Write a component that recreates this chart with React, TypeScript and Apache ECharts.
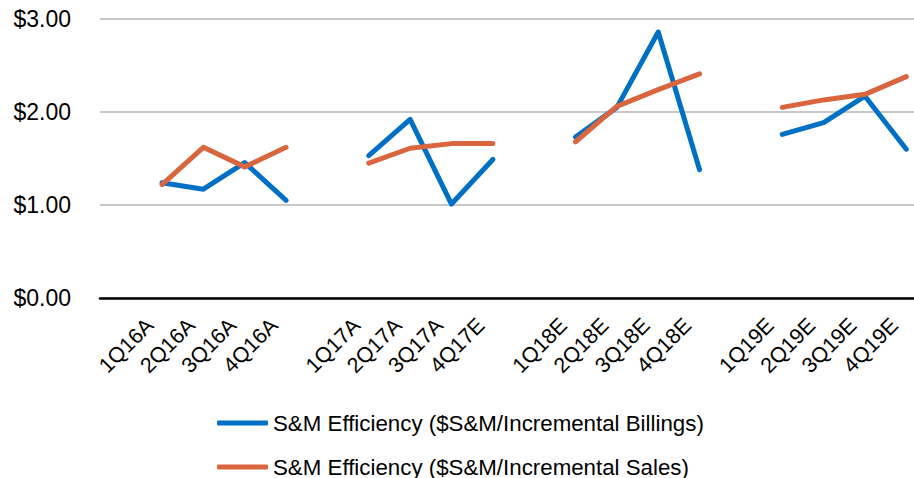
import React, { useEffect, useRef } from "react";
import * as echarts from "echarts";

const categories = [
  "", "1Q16A", "2Q16A", "3Q16A", "4Q16A",
  "", "1Q17A", "2Q17A", "3Q17A", "4Q17E",
  "", "1Q18E", "2Q18E", "3Q18E", "4Q18E",
  "", "1Q19E", "2Q19E", "3Q19E", "4Q19E",
];

const billings = [
  null, 1.24, 1.17, 1.455, 1.05,
  null, 1.53, 1.92, 1.01, 1.49,
  null, 1.73, 2.05, 2.86, 1.38,
  null, 1.76, 1.885, 2.17, 1.6,
];

const sales = [
  null, 1.22, 1.62, 1.41, 1.62,
  null, 1.45, 1.61, 1.66, 1.66,
  null, 1.68, 2.06, 2.24, 2.41,
  null, 2.05, 2.13, 2.19, 2.38,
];

const yTicks = [0, 1, 2, 3];

const seriesNames = [
  "S&M Efficiency ($S&M/Incremental Billings)",
  "S&M Efficiency ($S&M/Incremental Sales)",
];

const FONT = "'Liberation Sans', Arial, sans-serif";
const BLUE = "#0070C6";
const ORANGE = "#D9663F";

const legendBase = {
  orient: "vertical",
  left: 217,
  padding: 0,
  itemWidth: 51,
  itemHeight: 5,
  icon: "roundRect",
  textStyle: { fontSize: 22.3, lineHeight: 22, color: "#000", fontFamily: FONT },
};

export default function App() {
  const ref = useRef<HTMLDivElement>(null);
  useEffect(() => {
    document.body.style.margin = "0";
    const chart = echarts.init(ref.current!, null, { renderer: "svg" });
    chart.setOption({
      animation: false,
      textStyle: { fontFamily: FONT },
      grid: { left: 100, top: 19, width: 827, height: 279, containLabel: false, outerBoundsMode: "none" },
      legend: [
        { ...legendBase, top: 412, data: [seriesNames[0]] },
        { ...legendBase, top: 456, data: [seriesNames[1]] },
      ],
      xAxis: {
        type: "category",
        data: categories,
        boundaryGap: true,
        axisLine: { lineStyle: { color: "#000", width: 2.5 } },
        axisTick: { show: false },
        axisLabel: {
          interval: 0,
          rotate: 45,
          fontSize: 21.5,
          color: "#000",
          fontFamily: FONT,
          margin: 12,
          padding: [0, 17, 0, 0],
        },
      },
      yAxis: {
        type: "value",
        min: yTicks[0],
        max: yTicks[yTicks.length - 1],
        interval: 1,
        axisLine: { show: false },
        axisTick: { show: false },
        splitLine: { lineStyle: { color: "#C8C8C8", width: 2 } },
        axisLabel: {
          fontSize: 23,
          color: "#000",
          fontFamily: FONT,
          margin: 29,
          formatter: (v: number) => "$" + v.toFixed(2),
        },
      },
      series: [
        {
          name: seriesNames[0],
          type: "line",
          data: billings,
          symbol: "none",
          connectNulls: false,
          lineStyle: { color: BLUE, width: 5, cap: "round", join: "round" },
          itemStyle: { color: BLUE },
        },
        {
          name: seriesNames[1],
          type: "line",
          data: sales,
          symbol: "none",
          connectNulls: false,
          lineStyle: { color: ORANGE, width: 5, cap: "round", join: "round" },
          itemStyle: { color: ORANGE },
        },
      ],
    });
    return () => chart.dispose();
  }, []);
  return <div ref={ref} style={{ width: 914, height: 478 }} />;
}
